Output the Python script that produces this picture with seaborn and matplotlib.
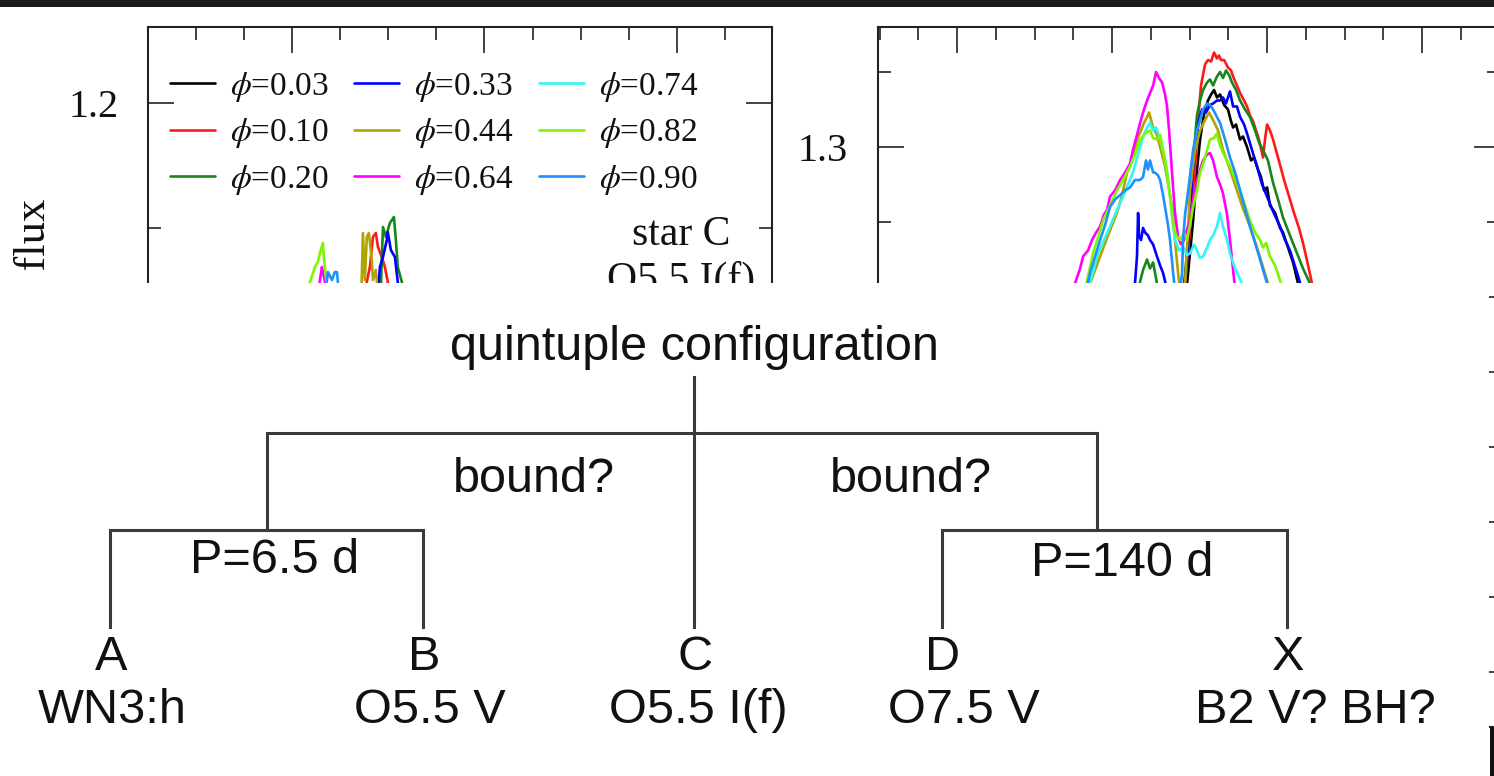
import matplotlib
matplotlib.use("Agg")
import matplotlib.pyplot as plt
from matplotlib.patches import Rectangle
from matplotlib.lines import Line2D
from matplotlib.ticker import MultipleLocator, FuncFormatter
import pandas as pd
import seaborn as sns

# ---------------- data ----------------
phases = ["0.03", "0.10", "0.20", "0.33", "0.44", "0.64", "0.74", "0.82", "0.90"]
phase_colors = ["#000000", "#ff1a1a", "#17871a", "#0000ff", "#b3a300",
                "#ff00ff", "#33f5f5", "#7ff500", "#1e90ff"]

# left panel (wavelength [A], normalized flux) - only the visible tops
left_003 = [(4634.6, 1.115), (4635.0, 1.125), (4635.4, 1.115)]
left_010 = [(4633.85, 1.121), (4633.89, 1.1284), (4634.05, 1.1344), (4634.21, 1.1464),
            (4634.36, 1.148), (4634.47, 1.1424), (4634.67, 1.1384), (4634.83, 1.1344),
            (4634.98, 1.1284), (4635.1, 1.121)]
left_020 = [(4634.6, 1.121), (4634.73, 1.1504), (4634.88, 1.1464), (4635.09, 1.152),
            (4635.30, 1.1544), (4635.40, 1.1452), (4635.50, 1.1344), (4635.71, 1.1284),
            (4635.85, 1.121)]
left_033 = [(4634.45, 1.121), (4634.57, 1.1344), (4634.73, 1.1384), (4634.93, 1.1452),
            (4634.98, 1.1484), (4635.14, 1.1412), (4635.35, 1.1384), (4635.50, 1.1284),
            (4635.6, 1.121)]
left_044 = [(4633.6, 1.121), (4633.69, 1.148), (4633.79, 1.1292), (4633.89, 1.1464),
            (4634.00, 1.148), (4634.15, 1.1372), (4634.21, 1.1292), (4634.36, 1.1332),
            (4634.5, 1.121)]
left_064 = [(4631.3, 1.121), (4631.56, 1.1344), (4631.61, 1.1324), (4631.72, 1.1284),
            (4631.85, 1.121)]
left_074 = [(4631.8, 1.115), (4632.1, 1.126), (4632.4, 1.115)]
left_082 = [(4630.7, 1.121), (4630.94, 1.1284), (4631.20, 1.1344), (4631.35, 1.1364),
            (4631.46, 1.14), (4631.61, 1.144), (4631.66, 1.1384), (4631.77, 1.1304),
            (4631.9, 1.121)]
left_090 = [(4631.7, 1.121), (4631.87, 1.1324), (4632.08, 1.1292), (4632.23, 1.1324),
            (4632.34, 1.1324), (4632.39, 1.1284), (4632.5, 1.121)]

# right panel (wavelength [A], normalized flux)
right_003 = [(4680.52, 1.185), (4682.45, 1.178), (4684.06, 1.171), (4684.84, 1.209),
             (4685.23, 1.251), (4685.48, 1.285), (4685.68, 1.305), (4685.87, 1.318),
             (4686.00, 1.325), (4686.19, 1.331), (4686.39, 1.335), (4686.58, 1.338),
             (4686.77, 1.333), (4686.97, 1.335), (4687.23, 1.328), (4687.48, 1.325),
             (4687.68, 1.317), (4687.81, 1.313), (4688.00, 1.315), (4688.26, 1.305),
             (4688.45, 1.307), (4688.71, 1.300), (4688.97, 1.291), (4689.16, 1.293),
             (4689.42, 1.285), (4689.61, 1.280), (4689.81, 1.271), (4690.00, 1.273),
             (4690.19, 1.261), (4690.52, 1.256), (4690.84, 1.246), (4691.03, 1.243),
             (4691.42, 1.231), (4691.68, 1.223), (4692.00, 1.209), (4692.45, 1.185)]
right_010 = [(4680.52, 1.178), (4682.45, 1.185), (4684.06, 1.178), (4684.71, 1.209),
             (4685.03, 1.245), (4685.23, 1.271), (4685.35, 1.285), (4685.55, 1.318),
             (4685.74, 1.341), (4686.00, 1.355), (4686.19, 1.358), (4686.39, 1.357),
             (4686.58, 1.363), (4686.77, 1.359), (4686.90, 1.361), (4687.03, 1.358),
             (4687.23, 1.358), (4687.48, 1.353), (4687.68, 1.351), (4687.81, 1.347),
             (4688.06, 1.341), (4688.26, 1.336), (4688.52, 1.331), (4688.71, 1.327),
             (4688.90, 1.321), (4689.10, 1.317), (4689.29, 1.311), (4689.48, 1.305),
             (4689.74, 1.293), (4689.87, 1.305), (4690.00, 1.315), (4690.19, 1.311),
             (4690.39, 1.305), (4690.52, 1.300), (4690.84, 1.288), (4691.10, 1.278),
             (4691.42, 1.267), (4691.74, 1.256), (4692.06, 1.246), (4692.32, 1.236),
             (4692.65, 1.221), (4692.90, 1.209), (4693.29, 1.185)]
right_020 = [(4680.52, 1.178), (4681.68, 1.205), (4682.00, 1.218), (4682.26, 1.225),
             (4682.45, 1.219), (4682.65, 1.223), (4682.90, 1.209), (4683.74, 1.171),
             (4684.58, 1.198), (4684.84, 1.231), (4685.10, 1.271), (4685.29, 1.298),
             (4685.48, 1.321), (4685.68, 1.331), (4685.87, 1.338), (4686.13, 1.343),
             (4686.32, 1.345), (4686.52, 1.341), (4686.77, 1.347), (4686.97, 1.350),
             (4687.16, 1.346), (4687.35, 1.351), (4687.55, 1.348), (4687.74, 1.343),
             (4688.00, 1.338), (4688.26, 1.331), (4688.58, 1.325), (4688.90, 1.320),
             (4689.23, 1.311), (4689.48, 1.303), (4689.74, 1.298), (4690.06, 1.291),
             (4690.19, 1.285), (4690.39, 1.276), (4690.71, 1.265), (4691.03, 1.253),
             (4691.48, 1.241), (4691.94, 1.229), (4692.32, 1.219), (4692.77, 1.209),
             (4693.16, 1.185)]
right_033 = [(4680.52, 1.185), (4681.29, 1.198), (4681.48, 1.209), (4681.61, 1.227),
             (4681.68, 1.256), (4681.74, 1.241), (4681.87, 1.238), (4682.00, 1.246),
             (4682.13, 1.243), (4682.32, 1.241), (4682.45, 1.238), (4682.65, 1.235),
             (4682.90, 1.227), (4683.10, 1.221), (4683.29, 1.216), (4683.55, 1.205),
             (4683.87, 1.178), (4684.39, 1.185), (4684.84, 1.225), (4685.16, 1.278),
             (4685.42, 1.305), (4685.61, 1.318), (4685.81, 1.325), (4686.06, 1.323),
             (4686.32, 1.328), (4686.52, 1.329), (4686.77, 1.331), (4686.97, 1.331),
             (4687.16, 1.333), (4687.35, 1.329), (4687.61, 1.337), (4687.81, 1.327),
             (4688.06, 1.327), (4688.26, 1.320), (4688.52, 1.315), (4688.71, 1.309),
             (4689.03, 1.298), (4689.35, 1.287), (4689.68, 1.275), (4690.00, 1.267),
             (4690.39, 1.257), (4690.84, 1.247), (4691.16, 1.238), (4691.48, 1.231),
             (4691.94, 1.216), (4692.26, 1.205), (4692.77, 1.185)]
right_044 = [(4677.94, 1.191), (4678.58, 1.209), (4679.23, 1.227), (4679.74, 1.241),
             (4680.32, 1.256), (4680.65, 1.268), (4680.97, 1.283), (4681.29, 1.291),
             (4681.61, 1.305), (4681.87, 1.311), (4682.06, 1.316), (4682.26, 1.320),
             (4682.39, 1.323), (4682.52, 1.318), (4682.65, 1.313), (4682.90, 1.308),
             (4683.10, 1.300), (4683.42, 1.287), (4683.61, 1.276), (4683.87, 1.260),
             (4684.06, 1.238), (4684.26, 1.216), (4684.45, 1.198), (4684.71, 1.209),
             (4684.90, 1.245), (4685.03, 1.271), (4685.23, 1.288), (4685.35, 1.298),
             (4685.68, 1.311), (4686.00, 1.318), (4686.26, 1.323), (4686.52, 1.318),
             (4686.84, 1.311), (4687.16, 1.298), (4687.61, 1.285), (4688.06, 1.271),
             (4688.45, 1.259), (4688.90, 1.247), (4689.35, 1.233), (4689.74, 1.220),
             (4690.06, 1.209), (4690.52, 1.191)]
right_064 = [(4677.16, 1.191), (4677.61, 1.209), (4677.94, 1.219), (4678.13, 1.227),
             (4678.45, 1.231), (4678.71, 1.238), (4678.97, 1.243), (4679.23, 1.247),
             (4679.48, 1.255), (4679.68, 1.258), (4679.87, 1.267), (4680.19, 1.271),
             (4680.52, 1.278), (4680.84, 1.283), (4681.16, 1.289), (4681.35, 1.298),
             (4681.61, 1.308), (4681.81, 1.316), (4682.06, 1.325), (4682.26, 1.331),
             (4682.45, 1.336), (4682.65, 1.341), (4682.84, 1.350), (4683.03, 1.346),
             (4683.23, 1.343), (4683.42, 1.335), (4683.55, 1.327), (4683.68, 1.311),
             (4683.87, 1.283), (4684.06, 1.256), (4684.26, 1.240), (4684.45, 1.235),
             (4684.65, 1.238), (4684.84, 1.245), (4685.03, 1.251), (4685.23, 1.265),
             (4685.48, 1.278), (4685.68, 1.285), (4685.87, 1.291), (4686.13, 1.295),
             (4686.32, 1.296), (4686.52, 1.291), (4686.77, 1.280), (4686.97, 1.275),
             (4687.16, 1.269), (4687.42, 1.255), (4687.61, 1.238), (4687.81, 1.218),
             (4687.94, 1.205), (4688.26, 1.185)]
right_074 = [(4678.13, 1.191), (4678.58, 1.209), (4679.03, 1.227), (4679.48, 1.238),
             (4679.87, 1.247), (4680.32, 1.258), (4680.71, 1.267), (4681.03, 1.275),
             (4681.35, 1.283), (4681.68, 1.295), (4682.00, 1.307), (4682.26, 1.313),
             (4682.45, 1.316), (4682.65, 1.311), (4682.84, 1.313), (4683.10, 1.305),
             (4683.35, 1.295), (4683.55, 1.283), (4683.74, 1.268), (4683.87, 1.253),
             (4684.06, 1.238), (4684.32, 1.231), (4684.58, 1.233), (4684.84, 1.228),
             (4685.03, 1.229), (4685.29, 1.235), (4685.48, 1.231), (4685.68, 1.226),
             (4685.87, 1.227), (4686.13, 1.233), (4686.32, 1.238), (4686.52, 1.241),
             (4686.77, 1.247), (4686.97, 1.256), (4687.16, 1.247), (4687.42, 1.238),
             (4687.61, 1.229), (4687.87, 1.221), (4688.06, 1.216), (4688.39, 1.209),
             (4688.77, 1.191)]
right_082 = [(4677.94, 1.191), (4678.39, 1.211), (4678.77, 1.229), (4679.10, 1.240),
             (4679.42, 1.251), (4679.87, 1.261), (4680.32, 1.271), (4680.71, 1.278),
             (4681.16, 1.287), (4681.48, 1.295), (4681.81, 1.305), (4682.13, 1.309),
             (4682.45, 1.311), (4682.65, 1.306), (4682.90, 1.305), (4683.10, 1.308),
             (4683.29, 1.298), (4683.48, 1.288), (4683.61, 1.278), (4683.81, 1.261),
             (4683.94, 1.249), (4684.13, 1.241), (4684.39, 1.238), (4684.65, 1.243),
             (4684.84, 1.238), (4685.03, 1.248), (4685.23, 1.260), (4685.48, 1.271),
             (4685.68, 1.283), (4685.94, 1.291), (4686.13, 1.298), (4686.32, 1.305),
             (4686.58, 1.306), (4686.77, 1.309), (4686.97, 1.301), (4687.16, 1.296),
             (4687.42, 1.291), (4687.61, 1.287), (4687.94, 1.279), (4688.26, 1.271),
             (4688.58, 1.261), (4688.90, 1.251), (4689.23, 1.243), (4689.55, 1.238),
             (4689.74, 1.233), (4689.94, 1.236), (4690.19, 1.227), (4690.52, 1.221),
             (4690.84, 1.211), (4691.23, 1.198)]
right_090 = [(4677.94, 1.185), (4678.58, 1.216), (4679.23, 1.238), (4679.55, 1.248),
             (4679.87, 1.260), (4680.19, 1.265), (4680.52, 1.268), (4680.84, 1.271),
             (4681.16, 1.273), (4681.48, 1.278), (4681.81, 1.278), (4682.00, 1.280),
             (4682.19, 1.291), (4682.32, 1.285), (4682.45, 1.291), (4682.65, 1.283),
             (4682.77, 1.283), (4682.97, 1.281), (4683.10, 1.278), (4683.29, 1.268),
             (4683.42, 1.260), (4683.61, 1.248), (4683.74, 1.238), (4683.94, 1.216),
             (4684.13, 1.198), (4684.39, 1.205), (4684.52, 1.216), (4684.58, 1.238),
             (4684.71, 1.255), (4684.84, 1.265), (4685.03, 1.281), (4685.23, 1.298),
             (4685.48, 1.311), (4685.68, 1.318), (4685.87, 1.325), (4686.13, 1.329),
             (4686.32, 1.328), (4686.52, 1.325), (4686.77, 1.320), (4686.97, 1.316),
             (4687.29, 1.305), (4687.61, 1.293), (4687.94, 1.283), (4688.26, 1.271),
             (4688.58, 1.259), (4688.90, 1.247), (4689.23, 1.236), (4689.55, 1.225),
             (4690.00, 1.209), (4690.32, 1.191)]

left_series = [left_003, left_010, left_020, left_033, left_044,
               left_064, left_074, left_082, left_090]
right_series = [right_003, right_010, right_020, right_033, right_044,
                right_064, right_074, right_082, right_090]

# diagram content
root_label = "quintuple configuration"
link_labels = ["bound?", "bound?"]
period_labels = ["P=6.5 d", "P=140 d"]
star_letters = ["A", "B", "C", "D", "X"]
star_types = ["WN3:h", "O5.5 V", "O5.5 I(f)", "O7.5 V", "B2 V? BH?"]


def long_frame(series):
    rows = []
    for ph, pts in zip(phases, series):
        for i, (w, f) in enumerate(pts):
            rows.append((ph, i, w, f))
    return pd.DataFrame(rows, columns=["phase", "idx", "wl", "flux"])


# ---------------- style ----------------
sns.set_style("white")
plt.rcParams["font.family"] = ["Liberation Serif", "DejaVu Serif"]
plt.rcParams["mathtext.fontset"] = "stix"
plt.rcParams["text.color"] = "#111111"

W, H = 1494, 776
fig = plt.figure(figsize=(W / 100, H / 100), dpi=100)
fig.patch.set_facecolor("white")

palette = dict(zip(phases, phase_colors))
spine_c = "#222222"


def style_axes(ax, xmaj, ymaj, ymin_label):
    ax.xaxis.set_major_locator(MultipleLocator(xmaj))
    ax.xaxis.set_minor_locator(MultipleLocator(xmaj / 4))
    ax.yaxis.set_major_locator(MultipleLocator(ymaj))
    ax.yaxis.set_minor_locator(MultipleLocator(ymaj / 2))
    # only the labels above the pasted diagram are shown
    ax.yaxis.set_major_formatter(
        FuncFormatter(lambda v, p: f"{v:.1f}" if v > ymin_label else ""))
    ax.tick_params(which="both", direction="in", left=True, bottom=True,
                   top=True, right=True, labeltop=False, labelright=False,
                   labelbottom=False, colors=spine_c, labelcolor="#111111",
                   width=1.2)
    ax.tick_params(which="major", length=19, labelsize=29, pad=21.5)
    ax.tick_params(which="minor", length=9.5)
    for s in ax.spines.values():
        s.set_visible(True)
        s.set_color(spine_c)
        s.set_linewidth(1.5)
    ax.set_xlabel("")
    ax.set_ylabel("")


# left panel
axL = fig.add_axes([148 / W, 1 - 727 / H, 624 / W, 700 / H])
sns.lineplot(data=long_frame(left_series), x="wl", y="flux", hue="phase",
             hue_order=phases, palette=palette, sort=False, estimator=None,
             linewidth=1.9, legend=False, ax=axL)
axL.set_xlim(4622.53, 4654.93)
axL.set_ylim(0.9504, 1.2304)
style_axes(axL, 10, 0.1, 1.15)

handles = [Line2D([], [], color=c, lw=1.9) for c in phase_colors]
labels = [r"$\phi$=" + p for p in phases]
leg = axL.legend(handles, labels, ncol=3, loc="upper left",
                 bbox_to_anchor=(0.0355, 0.939), frameon=False, fontsize=24,
                 handlelength=1.35, handletextpad=0.45, columnspacing=0.75,
                 labelspacing=0.38, borderpad=0, borderaxespad=0)
for t in leg.get_texts():
    t.set_color("#111111")
axL.text(0.854, 0.689, "star C", transform=axL.transAxes, ha="center",
         va="baseline", fontsize=30, color="#111111")
axL.text(0.854, 0.623, "O5.5 I(f)", transform=axL.transAxes, ha="center",
         va="baseline", fontsize=30, color="#111111")
fig.text(34 / W, 1 - 345 / H, "Normalized flux", rotation=90, ha="center",
         va="center", fontsize=32, color="#111111")

# right panel
axR = fig.add_axes([878 / W, 1 - 727 / H, 622 / W, 700 / H])
sns.lineplot(data=long_frame(right_series), x="wl", y="flux", hue="phase",
             hue_order=phases, palette=palette, sort=False, estimator=None,
             linewidth=1.9, legend=False, ax=axR)
axR.set_xlim(4664.90, 4705.03)
axR.set_ylim(0.9133, 1.38)
style_axes(axR, 10, 0.1, 1.15)

# dark strip at the very top
fig.add_artist(Rectangle((0, 1 - 7 / H), 1, 7 / H, transform=fig.transFigure,
                         facecolor="#1b1b1b", edgecolor="none", zorder=30))

# ---------------- overlay with the hierarchy diagram ----------------
axO = fig.add_axes([0, 0, 1489 / W, 493 / H], zorder=10)
axO.set_xlim(0, 1489)
axO.set_ylim(776, 283)
axO.set_facecolor("white")
axO.set_xticks([])
axO.set_yticks([])
for s in axO.spines.values():
    s.set_visible(False)

leaf_x = [110, 423, 694, 942, 1287]
pair_mid = [267, 1097]
y_top_bar, y_pair_bar, y_leaf = 433, 530, 627
line_kw = dict(color="#3a3a3a", lw=2.2, solid_capstyle="projecting",
               solid_joinstyle="miter")
axO.plot([leaf_x[2], leaf_x[2]], [377, y_leaf], **line_kw)
axO.plot([pair_mid[0], pair_mid[0], pair_mid[1], pair_mid[1]],
         [y_pair_bar, y_top_bar, y_top_bar, y_pair_bar], **line_kw)
for a, b in [(0, 1), (3, 4)]:
    axO.plot([leaf_x[a], leaf_x[a], leaf_x[b], leaf_x[b]],
             [y_leaf, y_pair_bar, y_pair_bar, y_leaf], **line_kw)

tkw = dict(family=["Liberation Sans", "DejaVu Sans"], fontsize=35,
           color="#111111", ha="center", va="baseline")
axO.text(694, 360, root_label, **tkw)
axO.text(534, 492, link_labels[0], **tkw)
axO.text(911, 492, link_labels[1], **tkw)
axO.text(275, 573, period_labels[0], **tkw)
axO.text(1122, 576, period_labels[1], **tkw)
type_x = [112, 430, 698, 964, 1315]
for lx, tx, letter, st in zip(leaf_x, type_x, star_letters, star_types):
    axO.text(lx + 1, 670, letter, **tkw)
    axO.text(tx, 723, st, **tkw)

# edge of the panel below, visible at the lower right corner
fig.add_artist(Rectangle((1490 / W, 0), 4 / W, 49 / H, transform=fig.transFigure,
                         facecolor="#111111", edgecolor="none", zorder=30))

fig.savefig("out.png", dpi=100, facecolor="white")
